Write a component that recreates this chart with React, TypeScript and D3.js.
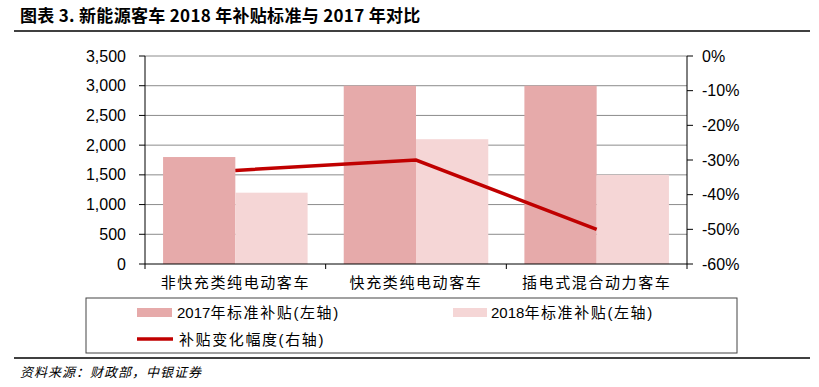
import * as d3 from 'd3';

const categories = ['非快充类纯电动客车', '快充类纯电动客车', '插电式混合动力客车'];
const subsidy2017 = [1800, 3000, 3000];
const subsidy2018 = [1200, 2100, 1500];
const changeRate = [-0.33, -0.3, -0.5];
const leftTicks = [0, 500, 1000, 1500, 2000, 2500, 3000, 3500];
const rightTicks = [0, -0.1, -0.2, -0.3, -0.4, -0.5, -0.6];

const W = 819;
const H = 387;
const left = 145;
const right = 687;
const top = 56;
const bottom = 264;

const c2017 = '#E6AAAA';
const c2018 = '#F5D6D6';
const cLine = '#C00000';
const numFont = '"Liberation Sans", Arial, sans-serif';
const cjkFont = '"Liberation Sans", "Noto Sans CJK SC", sans-serif';

export default function App() {
  const x = d3.scaleBand<string>().domain(categories).range([left, right]).paddingInner(0.2).paddingOuter(0.1);
  const sub = d3.scaleBand<string>().domain(['2017', '2018']).range([0, x.bandwidth()]);
  const y = d3.scaleLinear().domain([0, 3500]).range([bottom, top]);
  const y2 = d3.scaleLinear().domain([-0.6, 0]).range([bottom, top]);
  const fmt = d3.format(',');
  const pct = d3.format('.0%');

  const line = d3.line<number>()
    .x((_, i) => x(categories[i])! + x.bandwidth() / 2)
    .y(d => y2(d));

  const step = x.step();
  const bounds = d3.range(categories.length + 1).map(i => left + i * step);

  return (
    <svg width={W} height={H} style={{ position: 'absolute', left: 0, top: 0, background: '#fff' }}>
      {/* title */}
      <text x={20} y={22} fontFamily={'"Noto Sans CJK SC", sans-serif'} fontWeight={700} fontSize={17} letterSpacing={0.3} fill="#000">
        图表 3. 新能源客车 2018 年补贴标准与 2017 年对比
      </text>
      <line x1={14} x2={810} y1={31} y2={31} stroke="#000" strokeWidth={1.5} />

      {/* grid */}
      {leftTicks.filter(t => t > 0).map(t => (
        <line key={t} x1={left} x2={right} y1={y(t)} y2={y(t)} stroke="#8c8c8c" strokeWidth={1} />
      ))}

      {/* bars */}
      {categories.map((c, i) => (
        <g key={c}>
          <rect x={x(c)! + sub('2017')!} y={y(subsidy2017[i])} width={sub.bandwidth()} height={bottom - y(subsidy2017[i])} fill={c2017} />
          <rect x={x(c)! + sub('2018')!} y={y(subsidy2018[i])} width={sub.bandwidth()} height={bottom - y(subsidy2018[i])} fill={c2018} />
        </g>
      ))}

      {/* line */}
      <path d={line(changeRate)!} fill="none" stroke={cLine} strokeWidth={3.5} />

      {/* left axis */}
      <line x1={left} x2={left} y1={top} y2={bottom} stroke="#000" />
      {leftTicks.map(t => (
        <g key={t}>
          <line x1={left - 6} x2={left} y1={y(t)} y2={y(t)} stroke="#000" />
          <text x={126} y={y(t)} dy="0.35em" textAnchor="end" fontFamily={numFont} fontSize={16}>{fmt(t)}</text>
        </g>
      ))}

      {/* right axis */}
      <line x1={right} x2={right} y1={top} y2={bottom} stroke="#000" />
      {rightTicks.map(t => (
        <g key={t}>
          <line x1={right} x2={right + 6} y1={y2(t)} y2={y2(t)} stroke="#000" />
          <text x={702} y={y2(t)} dy="0.35em" fontFamily={numFont} fontSize={16}>{pct(t).replace('−', '-')}</text>
        </g>
      ))}

      {/* x axis */}
      <line x1={left} x2={right} y1={bottom} y2={bottom} stroke="#000" />
      {bounds.map((b, i) => (
        <line key={i} x1={b} x2={b} y1={bottom} y2={bottom + 5} stroke="#000" />
      ))}
      {categories.map(c => (
        <text key={c} x={x(c)! + x.bandwidth() / 2} y={288} textAnchor="middle" fontFamily={cjkFont} fontSize={15} letterSpacing={1.6}>{c}</text>
      ))}

      {/* legend */}
      <rect x={86} y={298} width={651} height={55} fill="none" stroke="#444" strokeWidth={1} />
      <rect x={137} y={308} width={35} height={9} fill={c2017} />
      <text x={177} y={318} fontFamily={cjkFont} fontSize={15}>
        <tspan>2017</tspan><tspan letterSpacing={1.6}>年标准补贴(左轴)</tspan>
      </text>
      <rect x={453} y={308} width={34} height={9} fill={c2018} />
      <text x={491} y={318} fontFamily={cjkFont} fontSize={15}>
        <tspan>2018</tspan><tspan letterSpacing={1.6}>年标准补贴(左轴)</tspan>
      </text>
      <line x1={137} x2={173} y1={339} y2={339} stroke={cLine} strokeWidth={3.5} />
      <text x={179} y={345} fontFamily={cjkFont} fontSize={15} letterSpacing={1.6}>补贴变化幅度(右轴)</text>

      {/* bottom rule and source */}
      <line x1={14} x2={810} y1={358} y2={358} stroke="#000" strokeWidth={1.5} />
      <text x={20} y={377} fontFamily={'"Noto Sans CJK SC", sans-serif'} fontStyle="italic" fontSize={13} letterSpacing={1}>资料来源：财政部，中银证券</text>
    </svg>
  );
}
